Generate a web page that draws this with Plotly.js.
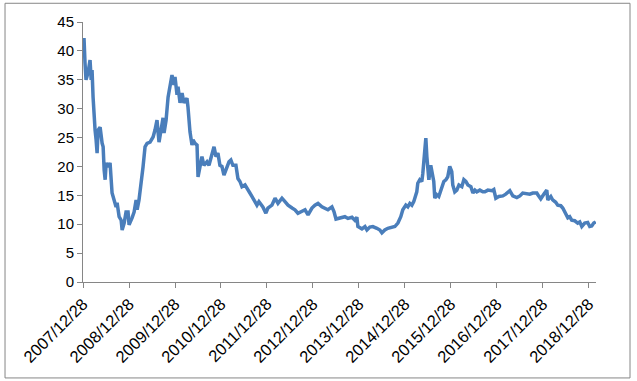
<!DOCTYPE html>
<html>
<head>
<meta charset="utf-8">
<script src="https://cdn.plot.ly/plotly-3.0.1.min.js"></script>
<style>html,body{margin:0;padding:0;background:#fff;}#chart{width:637px;height:381px;}</style>
</head>
<body>
<div id="chart"></div>
<script>
const dates = [
"2007-12-28","2008-01-05","2008-01-13","2008-01-21","2008-02-06","2008-02-22","2008-03-02","2008-03-09","2008-03-17","2008-03-25",
"2008-04-02","2008-04-10","2008-04-18","2008-04-26","2008-05-12","2008-05-28","2008-06-05","2008-06-13","2008-06-21","2008-06-29",
"2008-07-15","2008-07-30","2008-08-07","2008-08-15","2008-08-31","2008-09-16","2008-09-24","2008-10-10","2008-10-26","2008-11-03",
"2008-11-19","2008-12-04","2008-12-20","2008-12-28",
"2009-01-21","2009-02-06","2009-02-22","2009-03-02","2009-03-17","2009-04-10","2009-04-18","2009-05-04","2009-05-20","2009-06-13",
"2009-07-07","2009-07-22","2009-08-07","2009-08-23","2009-09-08","2009-09-24","2009-10-02","2009-10-18","2009-11-03","2009-11-19",
"2009-11-26","2009-12-04","2009-12-20","2009-12-28",
"2010-01-13","2010-01-21","2010-02-06","2010-02-22","2010-03-09","2010-04-02","2010-04-10","2010-04-26","2010-05-12","2010-05-20",
"2010-06-05","2010-06-21","2010-06-29","2010-07-15","2010-07-30","2010-08-15","2010-09-08","2010-09-24","2010-10-18","2010-11-03",
"2010-11-19","2010-12-04","2010-12-20",
"2011-01-05","2011-01-21","2011-02-14","2011-03-02","2011-03-17","2011-04-02","2011-04-26","2011-05-12","2011-05-28","2011-06-13",
"2011-07-07","2011-07-30","2011-08-15","2011-08-31","2011-09-24","2011-10-10","2011-10-26","2011-11-26","2011-12-20",
"2012-01-05","2012-02-06","2012-03-02","2012-03-25","2012-04-26","2012-05-20","2012-06-13","2012-07-15","2012-08-07","2012-08-31",
"2012-10-02","2012-10-26","2012-11-19","2012-12-20",
"2013-01-13","2013-02-06","2013-03-09","2013-04-02","2013-04-26","2013-05-28","2013-06-13","2013-06-29","2013-07-22","2013-08-15",
"2013-09-08","2013-10-02","2013-11-03","2013-11-26","2013-12-12","2013-12-20",
"2014-01-21","2014-02-14","2014-03-02","2014-03-25","2014-04-18","2014-05-20","2014-06-13","2014-06-29","2014-07-22","2014-08-15",
"2014-09-16","2014-10-10","2014-11-03","2014-11-26","2014-12-12",
"2015-01-05","2015-01-21","2015-02-06","2015-02-22","2015-03-09","2015-04-02","2015-04-10","2015-04-26","2015-05-12","2015-05-20",
"2015-05-28","2015-06-13","2015-06-21","2015-07-07","2015-07-22","2015-07-30","2015-08-15","2015-08-23","2015-09-08","2015-09-24",
"2015-10-18","2015-11-03","2015-11-19","2015-12-04","2015-12-20",
"2016-01-05","2016-01-13","2016-01-29","2016-02-14","2016-03-02","2016-03-25","2016-04-10","2016-04-26","2016-05-12","2016-06-05",
"2016-06-21","2016-07-07","2016-07-22","2016-08-15","2016-09-08","2016-09-24","2016-10-18","2016-11-19","2016-12-04","2016-12-20",
"2017-01-13","2017-02-14","2017-03-09","2017-04-10","2017-05-04","2017-06-05","2017-06-29","2017-07-22","2017-08-23","2017-09-16",
"2017-10-10","2017-11-11","2017-11-19","2017-12-12",
"2018-01-05","2018-01-29","2018-02-06","2018-03-02","2018-03-17","2018-04-10","2018-04-26","2018-05-20","2018-06-05","2018-06-29",
"2018-07-15","2018-07-30","2018-08-15","2018-09-08","2018-10-02","2018-10-18","2018-11-03","2018-11-26","2018-12-20",
"2019-01-05","2019-01-21","2019-02-06","2019-02-22"
];
const values = [
39.0,42.2,37.9,35.0,36.2,38.4,35.0,36.7,32.0,28.0,
26.3,24.6,22.3,26.3,26.8,24.0,23.4,19.4,17.7,20.6,
19.9,20.6,17.1,15.4,14.2,13.0,13.7,11.3,10.7,9.0,
10.2,12.1,12.1,9.9,
11.1,12.1,14.2,12.5,14.2,18.2,19.9,23.4,24.0,24.2,
25.1,26.3,28.0,24.2,26.7,28.4,25.8,28.0,32.0,34.0,
34.7,35.8,34.1,35.5,
32.4,33.8,31.0,32.7,31.0,31.8,30.3,26.0,23.7,24.6,
24.0,23.7,18.2,19.7,21.7,20.2,20.8,20.2,22.3,23.4,
21.7,22.3,20.2,
20.0,18.5,19.7,20.8,21.1,20.2,20.2,17.9,17.4,16.5,
16.8,15.8,15.4,14.8,13.9,13.3,13.9,13.0,11.9,
12.8,13.3,14.5,13.6,14.5,13.9,13.3,12.8,12.5,11.9,
12.2,12.5,11.6,12.8,
13.3,13.6,13.0,12.8,12.5,13.0,12.2,10.9,11.0,11.2,
11.3,11.0,11.2,10.7,11.2,9.6,
9.2,9.6,9.0,9.5,9.6,9.3,9.0,8.5,9.0,9.3,
9.5,9.6,10.2,11.3,12.5,
13.3,13.0,13.6,13.3,13.9,15.6,17.1,17.7,17.4,18.8,
20.6,24.9,21.7,17.7,20.2,19.4,17.4,14.5,15.1,14.8,
16.5,17.4,17.7,18.2,20.0,
19.1,16.8,15.6,15.9,16.8,16.5,17.7,17.4,16.8,16.5,
15.4,15.9,15.6,15.9,15.6,15.6,15.9,15.8,16.0,14.5,
14.8,14.9,15.2,15.8,14.9,14.6,14.9,15.4,15.2,15.2,
15.4,15.4,15.1,14.4,
15.2,15.9,14.2,14.8,14.2,13.8,13.3,13.2,12.8,11.7,
11.1,11.3,10.7,10.6,10.2,10.4,9.6,10.2,10.3,
9.6,9.7,10.2,10.4
];
const tickLabels = ["2007/12/28","2008/12/28","2009/12/28","2010/12/28","2011/12/28","2012/12/28",
"2013/12/28","2014/12/28","2015/12/28","2016/12/28","2017/12/28","2018/12/28"];
const yTicks = [0,5,10,15,20,25,30,35,40,45];

const tickVals = tickLabels.map(s => s.replace(/\//g, "-"));

const trace = {
  x: dates, y: values, type: "scatter", mode: "lines",
  line: {color: "#4A7EBB", width: 3.5},
  hoverinfo: "x+y"
};

const xFont = {family: "Liberation Sans, Arial, sans-serif", size: 16.5, color: "#000"};
const yFont = {family: "Liberation Sans, Arial, sans-serif", size: 15, color: "#000"};

const layout = {
  width: 637, height: 381,
  margin: {l: 83, r: 41, t: 22, b: 99, pad: 0},
  paper_bgcolor: "#fff", plot_bgcolor: "#fff",
  showlegend: false,
  xaxis: {
    type: "date",
    range: ["2007-12-28", "2019-02-24"],
    tickmode: "array", tickvals: tickVals, ticktext: tickLabels,
    tickangle: -45, ticks: "outside", ticklen: 5, tickcolor: "#868686", tickwidth: 1,
    showline: true, linecolor: "#868686", linewidth: 1,
    showgrid: false, zeroline: false,
    tickfont: xFont
  },
  yaxis: {
    range: [0, 45], tickmode: "array", tickvals: yTicks,
    ticks: "outside", ticklen: 5, tickcolor: "#868686", tickwidth: 1,
    showline: true, linecolor: "#868686", linewidth: 1,
    showgrid: false, zeroline: false,
    tickfont: yFont
  },
  shapes: [{
    type: "rect", xref: "paper", yref: "paper",
    x0: -0.152, x1: 1.0663, y0: -0.369, y1: 1.072,
    line: {color: "#868686", width: 1}, fillcolor: "rgba(0,0,0,0)", layer: "below"
  }]
};

Plotly.newPlot("chart", [trace], layout, {staticPlot: true, displayModeBar: false});
</script>
</body>
</html>
